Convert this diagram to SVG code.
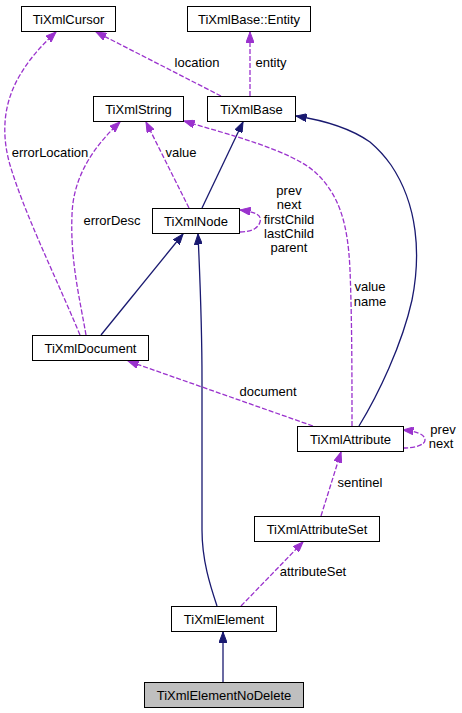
<svg xmlns="http://www.w3.org/2000/svg" width="462" height="713" viewBox="0 0 462 713">
<style>
.n rect{fill:#fff;stroke:#000;stroke-width:1}
.n.hl rect{fill:#bfbfbf}
text{font-family:"Liberation Sans",Arial,Helvetica,sans-serif;font-size:13px;fill:#000}
.n text{text-anchor:middle}
.lbl{text-anchor:middle}
.inh{fill:none;stroke:#191970;stroke-width:1.3}
.use{fill:none;stroke:#9a32cd;stroke-width:1.3;stroke-dasharray:5,2}
</style>
<defs>
<marker id="an" markerUnits="userSpaceOnUse" markerWidth="11" markerHeight="8" refX="10.5" refY="4" orient="auto"><path d="M0,0 L10.5,4 L0,8 z" fill="#191970" stroke="#191970"/></marker>
<marker id="ap" markerUnits="userSpaceOnUse" markerWidth="11" markerHeight="8" refX="10.5" refY="4" orient="auto"><path d="M0,0 L10.5,4 L0,8 z" fill="#9a32cd" stroke="#9a32cd"/></marker>
</defs>
<g id="edges">
<path class="use" d="M221,96 L96,32" marker-end="url(#ap)"/>
<path class="use" d="M250,96 L250,32" marker-end="url(#ap)"/>
<path class="inh" d="M202,208 L243,122" marker-end="url(#an)"/>
<path class="inh" d="M359,426 C378,395 402,345 412,300 C421,255 418,205 391,165 C384,155 377,148 370,142 C350,128 322,120 296,116" marker-end="url(#an)"/>
<path class="use" d="M189,208 L146,122" marker-end="url(#ap)"/>
<path class="use" d="M86,335 C80,300 70,260 72,215 C73,180 90,150 120,122" marker-end="url(#ap)"/>
<path class="use" d="M80,335 C55,275 25,215 10,165 C0,130 5,100 20,75 C30,58 42,45 56,32" marker-end="url(#ap)"/>
<path class="use" d="M352,426 C352,380 352,320 350,270 C348,225 340,195 315,172 C290,150 230,135 184,121" marker-end="url(#ap)"/>
<path class="use" d="M240,232 C250,232 258,229 260,222 C262,215 256,212 240,210" marker-end="url(#ap)"/>
<path class="inh" d="M101,335 L183,234" marker-end="url(#an)"/>
<path class="inh" d="M217,606 C210,585 202,560 202,530 L202,380 C202,320 200,280 198,234" marker-end="url(#an)"/>
<path class="use" d="M313,426 L128,361" marker-end="url(#ap)"/>
<path class="use" d="M403,448 C415,448 425,445 425,440 C425,434 415,431 403,430" marker-end="url(#ap)"/>
<path class="use" d="M321,516 L341,452" marker-end="url(#ap)"/>
<path class="use" d="M241,606 L303,542" marker-end="url(#ap)"/>
<path class="inh" d="M223,682 L223,632" marker-end="url(#an)"/>
<text class="lbl" x="197" y="67">location</text>
<text class="lbl" x="271" y="67">entity</text>
<text class="lbl" x="181" y="157">value</text>
<text class="lbl" x="50" y="157">errorLocation</text>
<text class="lbl" x="112" y="225">errorDesc</text>
<text class="lbl" x="289" y="195">prev</text>
<text class="lbl" x="289" y="209">next</text>
<text class="lbl" x="289" y="224">firstChild</text>
<text class="lbl" x="289" y="238">lastChild</text>
<text class="lbl" x="289" y="252">parent</text>
<text class="lbl" x="370" y="291">value</text>
<text class="lbl" x="370" y="306">name</text>
<text class="lbl" x="268" y="396">document</text>
<text class="lbl" x="443" y="434">prev</text>
<text class="lbl" x="441" y="448">next</text>
<text class="lbl" x="360" y="487">sentinel</text>
<text class="lbl" x="313" y="576">attributeSet</text>
</g>
<g id="TiXmlCursor" class="n"><rect x="21.5" y="6.5" width="94" height="25"/><text x="68.5" y="23.5">TiXmlCursor</text></g>
<g id="TiXmlBaseEntity" class="n"><rect x="187.5" y="6.5" width="123" height="25"/><text x="249" y="23.5">TiXmlBase::Entity</text></g>
<g id="TiXmlString" class="n"><rect x="93.5" y="96.5" width="90" height="25"/><text x="138.5" y="113.5">TiXmlString</text></g>
<g id="TiXmlBase" class="n"><rect x="207.5" y="96.5" width="88" height="25"/><text x="251.5" y="113.5">TiXmlBase</text></g>
<g id="TiXmlNode" class="n"><rect x="152.5" y="208.5" width="87" height="25"/><text x="196" y="225.5">TiXmlNode</text></g>
<g id="TiXmlDocument" class="n"><rect x="32.5" y="335.5" width="116" height="25"/><text x="90.5" y="352.5">TiXmlDocument</text></g>
<g id="TiXmlAttribute" class="n"><rect x="297.5" y="426.5" width="106" height="25"/><text x="350.5" y="443.5">TiXmlAttribute</text></g>
<g id="TiXmlAttributeSet" class="n"><rect x="254.5" y="516.5" width="125" height="25"/><text x="317" y="533.5">TiXmlAttributeSet</text></g>
<g id="TiXmlElement" class="n"><rect x="171.5" y="606.5" width="105" height="25"/><text x="224" y="623.5">TiXmlElement</text></g>
<g id="TiXmlElementNoDelete" class="n hl"><rect x="144.5" y="682.5" width="159" height="25"/><text x="224" y="699.5">TiXmlElementNoDelete</text></g>
</svg>
